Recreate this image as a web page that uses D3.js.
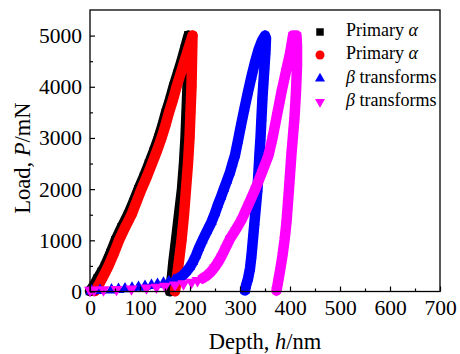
<!DOCTYPE html>
<html><head><meta charset="utf-8">
<script src="https://cdn.jsdelivr.net/npm/d3@7"></script>
<style>
body{margin:0;background:#fff}
svg{display:block}
text{font-family:"Liberation Serif","Times New Roman",serif;fill:#000}
</style>
</head><body>
<svg id="c" width="460" height="354"></svg>
<script>
// ---------- data ----------
const depthTicks = [0,100,200,300,400,500,600,700];
const depthMinor = [50,150,250,350,450,550,650];
const loadTicks = [0,1000,2000,3000,4000,5000];
const loadMinor = [500,1500,2500,3500,4500];
const legendLabels = ["Primary α","Primary α","β transforms","β transforms"];

// [depth nm, load mN]
const blackLoad = [[0,10],[8,120],[15,250],[23,380],[30,500],[41,750],[51,1000],[63,1250],[76,1500],[87,1750],[97,2000],[108,2250],[118,2500],[128,2750],[137,3000],[145,3250],[152,3500],[160,3750],[167,4000],[175,4250],[183,4500],[190,4750],[197,5000]];
const blackUnload = [[197,5000],[196,4500],[195,4000],[193,3500],[191,3000],[188,2500],[184,2000],[178,1500],[172,1000],[167,600],[164,300],[161,80],[160,5]];

const redLoad = [[10,10],[17,120],[24,250],[31,380],[37,500],[48,750],[58,1000],[70,1250],[83,1500],[93,1750],[103,2000],[114,2250],[124,2500],[134,2750],[143,3000],[151,3250],[158,3500],[166,3750],[173,4000],[181,4250],[189,4500],[197,4750],[205,5000]];
const redUnload = [[205,5000],[204,4500],[203,4000],[201,3500],[199,3000],[196,2500],[192,2000],[188,1500],[183,1000],[178,600],[174,300],[171,80],[170,5]];

const blueTail = [[3,10],[20,20],[43,30],[57,40],[70,52],[84,65],[97,80],[110,100],[123,118],[135,140],[147,165],[158,190],[168,220]];
const blueLoad = [[176,255],[184,300],[192,380],[200,480],[206,580],[212,704],[218,850],[225,1000],[234,1180],[243,1357],[250,1530],[256,1700],[262,1850],[268,2009],[274,2170],[280,2330],[285,2500],[290,2661],[296,2950],[302,3250],[309,3580],[316,3900],[323,4200],[330,4480],[337,4720],[344,4900],[350,5000]];
const blueUnload = [[352,4950],[351,4700],[349,4400],[347,4100],[345,3800],[343,3400],[341,3000],[339,2700],[337,2350],[335,2009],[332,1680],[329,1357],[326,1030],[323,704],[320,450],[316,250],[312,117],[310,20]];

const magentaTail = [[0,25],[8,28],[27,33],[53,40],[83,52],[113,70],[133,85],[150,104],[170,128],[187,150],[203,180],[215,215]];
const magentaLoad = [[225,255],[233,305],[241,375],[249,470],[256,570],[263,690],[271,850],[280,1030],[291,1200],[303,1400],[317,1700],[331,2009],[344,2330],[357,2661],[365,3000],[374,3450],[383,3900],[392,4300],[400,4650],[406,5000],[413,5000]];
const magentaUnload = [[414,4800],[414,4400],[412,3900],[409,3400],[403,2700],[398,2009],[393,1357],[389,1000],[385,704],[380,400],[376,180],[373,20]];

// ---------- styles ----------
const colors = ["#000000","#ff0000","#0000ff","#ff00ff"];
const shapes = [d3.symbolSquare, d3.symbolCircle, d3.symbolTriangle, d3.symbolTriangle];
const rotations = [0,0,0,180];
const bandMarker = [72,75,46,46];
const tailMarker = [100,95,62,62];
const legendSize = [56,64,44,44];
const bandWidth = 10.5;

const series = [
  {tail: [], band: blackLoad.concat(blackUnload)},
  {tail: [], band: redLoad.concat(redUnload)},
  {tail: blueTail, band: blueLoad.concat(blueUnload)},
  {tail: magentaTail, band: magentaLoad.concat(magentaUnload)}
];

// ---------- layout ----------
const L = 90, R = 440, T = 10, B = 291.5;
const svg = d3.select("#c");
const x = d3.scaleLinear().domain([0,700]).range([L,R]);
const y = d3.scaleLinear().domain([0,5500]).range([B,T]);

const plot = svg.append("g");
svg.append("clipPath").attr("id","clp").append("rect")
  .attr("x",L-6).attr("y",T).attr("width",R-L+6).attr("height",B-T+8);

const line = d3.line().x(d=>x(d[0])).y(d=>y(d[1]));

series.forEach((s,i)=>{
  const g = plot.append("g").attr("clip-path","url(#clp)");
  const symT = d3.symbol().type(shapes[i]).size(tailMarker[i]);
  g.selectAll("path.t").data(s.tail).enter().append("path")
    .attr("class","t").attr("d",symT)
    .attr("transform",d=>`translate(${x(d[0])},${y(d[1])}) rotate(${rotations[i]})`)
    .attr("fill",colors[i]);
  g.append("path").datum(s.band).attr("d",line)
    .attr("fill","none").attr("stroke",colors[i]).attr("stroke-width",bandWidth)
    .attr("stroke-linejoin","round").attr("stroke-linecap","round");
  const sym = d3.symbol().type(shapes[i]).size(bandMarker[i]);
  g.selectAll("path.m").data(s.band).enter().append("path")
    .attr("class","m").attr("d",sym)
    .attr("transform",d=>`translate(${x(d[0])},${y(d[1])}) rotate(${rotations[i]})`)
    .attr("fill",colors[i]);
});

// ---------- axes ----------
const fs = 21.5;
const fmt = d3.format("d");
const xAxis = svg.append("g").attr("transform",`translate(0,${B})`)
  .call(d3.axisBottom(x).tickValues(depthTicks).tickFormat(fmt).tickSizeInner(-5).tickSizeOuter(0).tickPadding(8.5));
const xMinor = svg.append("g").attr("transform",`translate(0,${B})`)
  .call(d3.axisBottom(x).tickValues(depthMinor).tickSizeInner(-3).tickSizeOuter(0).tickFormat(""));
const yAxis = svg.append("g").attr("transform",`translate(${L},0)`)
  .call(d3.axisLeft(y).tickValues(loadTicks).tickFormat(fmt).tickSizeInner(-5).tickSizeOuter(0).tickPadding(8));
const yMinor = svg.append("g").attr("transform",`translate(${L},0)`)
  .call(d3.axisLeft(y).tickValues(loadMinor).tickSizeInner(-3).tickSizeOuter(0).tickFormat(""));
[xAxis,xMinor,yAxis,yMinor].forEach(a=>{
  a.select(".domain").remove();
  a.selectAll("line").attr("stroke","#000").attr("stroke-width",1.2);
  a.selectAll("text").attr("font-size",fs).attr("font-family",'"Liberation Serif","Times New Roman",serif').attr("fill","#000");
});

svg.append("rect").attr("x",L).attr("y",T).attr("width",R-L).attr("height",B-T)
  .attr("fill","none").attr("stroke","#000").attr("stroke-width",1.3);

// axis titles
const tfs = 22.5;
const xt = svg.append("text").attr("x",265).attr("y",349).attr("text-anchor","middle").attr("font-size",tfs);
xt.append("tspan").text("Depth, ");
xt.append("tspan").attr("font-style","italic").text("h");
xt.append("tspan").text("/nm");

const yt = svg.append("text").attr("transform","translate(30,158) rotate(-90)").attr("text-anchor","middle").attr("font-size",tfs);
yt.append("tspan").text("Load, ");
yt.append("tspan").attr("font-style","italic").text("P");
yt.append("tspan").text("/mN");

// ---------- legend ----------
const legY = [30, 53, 76.5, 100];
legendLabels.forEach((lab,i)=>{
  svg.append("path").attr("d",d3.symbol().type(shapes[i]).size(legendSize[i]))
    .attr("transform",`translate(320,${legY[i]+2}) rotate(${rotations[i]})`)
    .attr("fill",colors[i]);
  const t = svg.append("text").attr("x",346).attr("y",legY[i]+6).attr("font-size",18);
  lab.split(/([αβ])/).filter(p=>p.length).forEach(p=>{
    const sp = t.append("tspan").text(p);
    if (/[αβ]/.test(p)) sp.attr("font-style","italic");
  });
});
</script>
</body></html>
